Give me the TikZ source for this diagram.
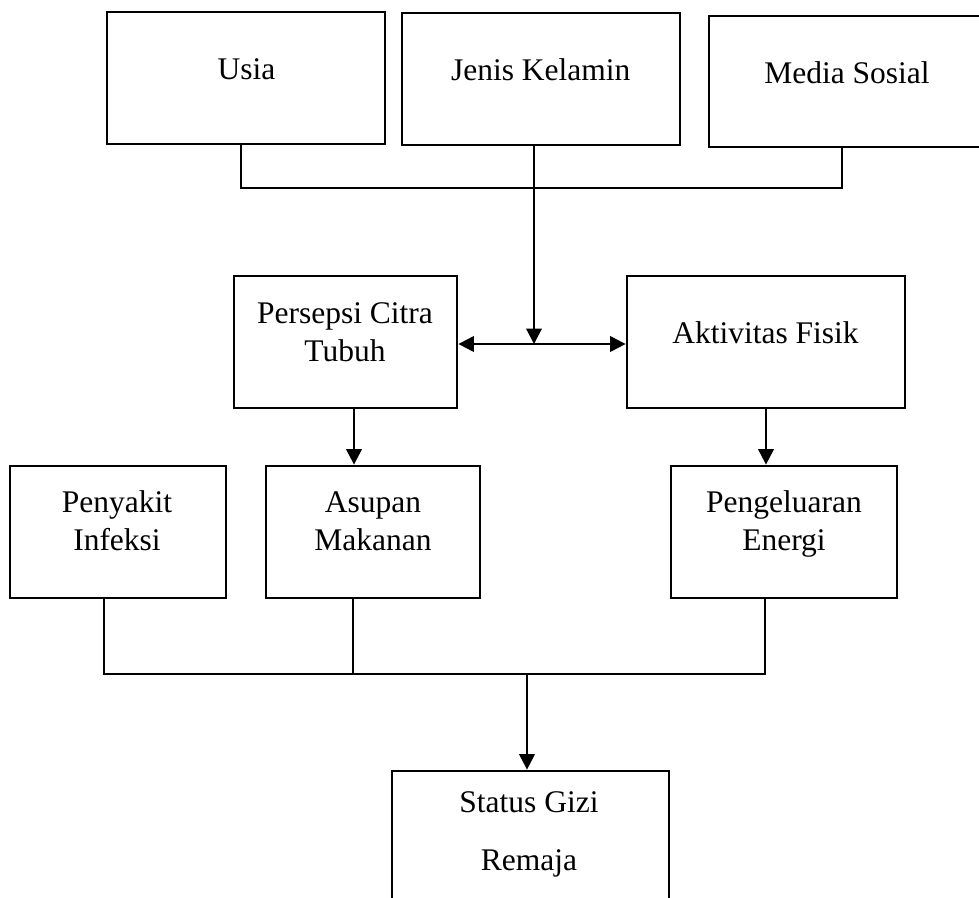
\documentclass[tikz,border=0pt]{standalone}
\usepackage{fontspec}
\setmainfont{Liberation Serif}
\usetikzlibrary{arrows.meta}
\begin{document}
\begin{tikzpicture}[x=1pt,y=-1pt,
 box/.style={draw, line width=2.8pt, inner sep=0pt},
 lbl/.style={anchor=base, inner sep=0pt, font=\fontsize{31.5}{38}\selectfont},
 thinline/.style={line width=1.4pt},
 arr/.style={line width=2.2pt, -{Triangle[length=15.5pt,width=15.5pt]}},
 darr/.style={line width=2.2pt, {Triangle[length=15.5pt,width=15.5pt]}-{Triangle[length=15.5pt,width=15.5pt]}}]
\useasboundingbox (0,0) rectangle (979,897);
\fill[white] (0,0) rectangle (979,897);
\clip (0,0) rectangle (979,897);
% boxes
\node[box, minimum width=278pt, minimum height=132pt] (usia) at (246,78) {};
\node[box, minimum width=278pt, minimum height=132pt] (jk) at (541,79) {};
\node[box, minimum width=281pt, minimum height=131pt] (ms) at (849.5,81.5) {};
\node[box, minimum width=223pt, minimum height=132pt] (persepsi) at (345.5,342) {};
\node[box, minimum width=278pt, minimum height=132pt] (aktivitas) at (766,342) {};
\node[box, minimum width=216pt, minimum height=132pt] (penyakit) at (118,532) {};
\node[box, minimum width=214pt, minimum height=132pt] (asupan) at (373,532) {};
\node[box, minimum width=226pt, minimum height=132pt] (pengeluaran) at (784,532) {};
\node[box, minimum width=277pt, minimum height=159pt] (status) at (530.5,850.5) {};
% labels
\node[lbl] (tusia) at (246.6,79) {Usia};
\node[lbl] (tjk) at (540.7,80) {Jenis Kelamin};
\node[lbl] (tms) at (847,83) {Media Sosial};
\node[lbl] (tpers1) at (345,323) {Persepsi Citra};
\node[lbl] (tpers2) at (345,361) {Tubuh};
\node[lbl] (takt) at (765.5,343) {Aktivitas Fisik};
\node[lbl] (tpen1) at (117,512.7) {Penyakit};
\node[lbl] (tpen2) at (117,550.7) {Infeksi};
\node[lbl] (tasu1) at (373,512.7) {Asupan};
\node[lbl] (tasu2) at (373,550.7) {Makanan};
\node[lbl] (tpeng1) at (784,512.7) {Pengeluaran};
\node[lbl] (tpeng2) at (784,550.7) {Energi};
\node[lbl] (tstat1) at (529,812) {Status Gizi};
\node[lbl] (tstat2) at (529,870) {Remaja};
% junction coordinates
\coordinate (j1) at (241,188);
\coordinate (j2) at (842,188);
\coordinate (mid) at (534,344);
\coordinate (a1) at (354,0);
\coordinate (b1) at (104,674);
\coordinate (b2) at (353,674);
\coordinate (b3) at (765,674);
\coordinate (b4) at (527,674);
% connectors top
\draw[thinline] (usia.south -| j1) -- (j1) -- (j2) -- (ms.south -| j2);
\draw[arr] (jk.south -| mid) -- (mid);
\draw[darr] (persepsi.east |- mid) -- (aktivitas.west |- mid);
\draw[arr] (persepsi.south -| a1) -- (asupan.north -| a1);
\draw[arr] (aktivitas.south) -- (pengeluaran.north -| aktivitas.south);
% connectors bottom
\draw[thinline] (penyakit.south -| b1) -- (b1) -- (b3) -- (pengeluaran.south -| b3);
\draw[thinline] (asupan.south -| b2) -- (b2);
\draw[arr] (b4) -- (status.north -| b4);
\end{tikzpicture}
\end{document}
